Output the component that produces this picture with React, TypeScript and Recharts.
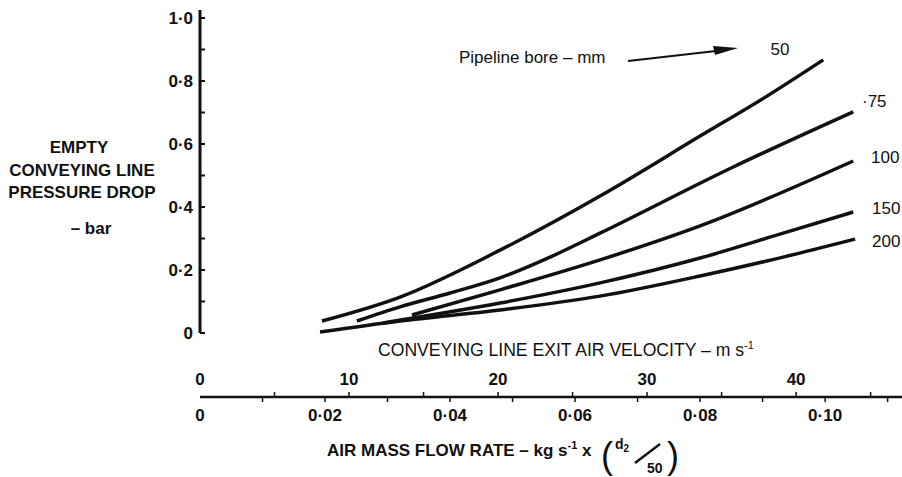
import { LineChart, Line, XAxis, YAxis, ReferenceLine } from 'recharts'

// air mass flow rate (kg/s x d/50) and pressure drop (bar) for each pipeline bore
const flow50 = [0.0195, 0.032, 0.048, 0.064, 0.08, 0.0907, 0.0997]
const drop50 = [0.038, 0.114, 0.263, 0.435, 0.625, 0.752, 0.867]
const flow75 = [0.0251, 0.032, 0.04, 0.048, 0.056, 0.064, 0.0853, 0.1045]
const drop75 = [0.038, 0.083, 0.127, 0.175, 0.241, 0.317, 0.527, 0.702]
const flow100 = [0.0339, 0.048, 0.064, 0.08, 0.1045]
const drop100 = [0.057, 0.137, 0.232, 0.34, 0.546]
const flow150 = [0.0293, 0.048, 0.064, 0.08, 0.0933, 0.1045]
const drop150 = [0.032, 0.095, 0.159, 0.238, 0.317, 0.384]
const flow200 = [0.0192, 0.032, 0.048, 0.064, 0.08, 0.0933, 0.1048]
const drop200 = [0.003, 0.038, 0.073, 0.117, 0.181, 0.241, 0.298]

const flowTicks = [0, 0.01, 0.02, 0.03, 0.04, 0.05, 0.06, 0.07, 0.08, 0.09, 0.1, 0.11]
const velocityTicks = [0, 5, 10, 15, 20, 25, 30, 35, 40, 45]
const dropTicks = [0, 0.1, 0.2, 0.3, 0.4, 0.5, 0.6, 0.7, 0.8, 0.9, 1.0]

// exit velocity (m/s) -> air mass flow (kg/s) on the shared scale
const FLOW_PER_VELOCITY = 0.002384

const toPoints = (xs: number[], ys: number[]) => xs.map((m, i) => ({ m, p: ys[i] }))

const curves = [
  { bore: '50', data: toPoints(flow50, drop50) },
  { bore: '75', data: toPoints(flow75, drop75) },
  { bore: '100', data: toPoints(flow100, drop100) },
  { bore: '150', data: toPoints(flow150, drop150) },
  { bore: '200', data: toPoints(flow200, drop200) },
]

// both scales share one axis line: flow ticks first, then velocity ticks
const axisTicks = [...flowTicks, ...velocityTicks.map((v) => v * FLOW_PER_VELOCITY)]

const INK = '#111'
const FONT = '"Liberation Sans", Arial, sans-serif'

const dot = (s: string) => s.replace('.', '\u00b7')

function DropTick({ x, y, payload }: any) {
  const v = payload.value
  const major = Math.round(v * 10) % 2 === 0
  const label = v === 0 ? '0' : dot(v.toFixed(1))
  return (
    <g>
      <line x1={x} y1={y} x2={x + 5} y2={y} stroke={INK} strokeWidth={2} />
      {major && (
        <text x={x - 7} y={y + 6} textAnchor="end" fontSize={17} fontWeight="bold" fill={INK} fontFamily={FONT}>
          {label}
        </text>
      )}
    </g>
  )
}

function BottomTick({ x, y, payload, index }: any) {
  const value = payload.value
  if (index < flowTicks.length) {
    const major = Math.round(value * 100) % 2 === 0
    return (
      <g>
        {value > 0 && <line x1={x} y1={y} x2={x} y2={y + 5} stroke={INK} strokeWidth={1.5} />}
        {major && (
          <text x={x} y={y + 24} textAnchor="middle" fontSize={17} fontWeight="bold" fill={INK} fontFamily={FONT}>
            {value === 0 ? '0' : dot(value.toFixed(2))}
          </text>
        )}
      </g>
    )
  }
  const v = Math.round(value / FLOW_PER_VELOCITY)
  return (
    <g>
      {v > 0 && <line x1={x} y1={y} x2={x} y2={y - 5} stroke={INK} strokeWidth={1.5} />}
      {v % 10 === 0 && (
        <text x={x} y={y - 12} textAnchor="middle" fontSize={17} fontWeight="bold" fill={INK} fontFamily={FONT}>
          {v}
        </text>
      )}
    </g>
  )
}

export default function App() {
  return (
    <div style={{ position: 'absolute', left: 0, top: 0, width: 902, height: 477, background: '#fff' }}>
      <LineChart width={902} height={477} margin={{ top: 10, right: 0, bottom: 79, left: 0 }}>
        <XAxis
          xAxisId="m"
          type="number"
          dataKey="m"
          domain={[0, 0.1123]}
          ticks={axisTicks}
          interval={0}
          height={1}
          tickSize={0}
          tickMargin={0}
          axisLine={{ stroke: INK, strokeWidth: 2.5 }}
          tickLine={false}
          tick={<BottomTick />}
          allowDataOverflow
        />
        <YAxis
          type="number"
          width={200}
          domain={[-0.2032, 1.0254]}
          ticks={dropTicks}
          interval={0}
          tickSize={0}
          tickMargin={0}
          axisLine={false}
          tickLine={false}
          tick={<DropTick />}
          allowDataOverflow
        />
        <ReferenceLine
          xAxisId="m"
          segment={[{ x: 0, y: 0 }, { x: 0, y: 1.0254 }]}
          stroke={INK}
          strokeWidth={3}
        />
        {curves.map((c) => (
          <Line
            key={c.bore}
            xAxisId="m"
            data={c.data}
            dataKey="p"
            type="monotone"
            stroke={INK}
            strokeWidth={3.5}
            dot={false}
            activeDot={false}
            isAnimationActive={false}
          />
        ))}
      </LineChart>
      <svg
        width={902}
        height={477}
        style={{ position: 'absolute', left: 0, top: 0, pointerEvents: 'none' }}
        fontFamily={FONT}
        fill={INK}
      >
        <g fontSize={17} fontWeight="bold" textAnchor="middle">
          <text x={79} y={153}>EMPTY</text>
          <text x={82} y={176}>CONVEYING LINE</text>
          <text x={82} y={198}>PRESSURE DROP</text>
          <text x={91} y={234}>– bar</text>
        </g>
        <text x={459} y={63} fontSize={17}>Pipeline bore – mm</text>
        <line x1={628} y1={61} x2={716} y2={51} stroke={INK} strokeWidth={2} />
        <polygon points="738,48 713,46 715,55" fill={INK} />
        <g fontSize={17}>
          <text x={780} y={55} textAnchor="middle">50</text>
          <text x={862} y={107}>·75</text>
          <text x={871} y={163}>100</text>
          <text x={872} y={214}>150</text>
          <text x={872} y={247}>200</text>
        </g>
        <text x={378} y={356} fontSize={17.6}>
          CONVEYING LINE EXIT AIR VELOCITY – m s<tspan dy={-7} fontSize={11}>-1</tspan>
        </text>
        <text x={327} y={456} fontSize={17} fontWeight="bold">
          AIR MASS FLOW RATE – kg s<tspan dy={-7} fontSize={11}>-1</tspan>
          <tspan dy={7}> x</tspan>
        </text>
        <text x={601} y={468} fontSize={36}>(</text>
        <text x={615} y={449} fontSize={14} fontWeight="bold">
          d<tspan dy={3} fontSize={10}>2</tspan>
        </text>
        <line x1={635} y1={463} x2={660} y2={444} stroke={INK} strokeWidth={2.5} />
        <text x={647} y={473} fontSize={14} fontWeight="bold">50</text>
        <text x={667} y={468} fontSize={36}>)</text>
      </svg>
    </div>
  )
}
